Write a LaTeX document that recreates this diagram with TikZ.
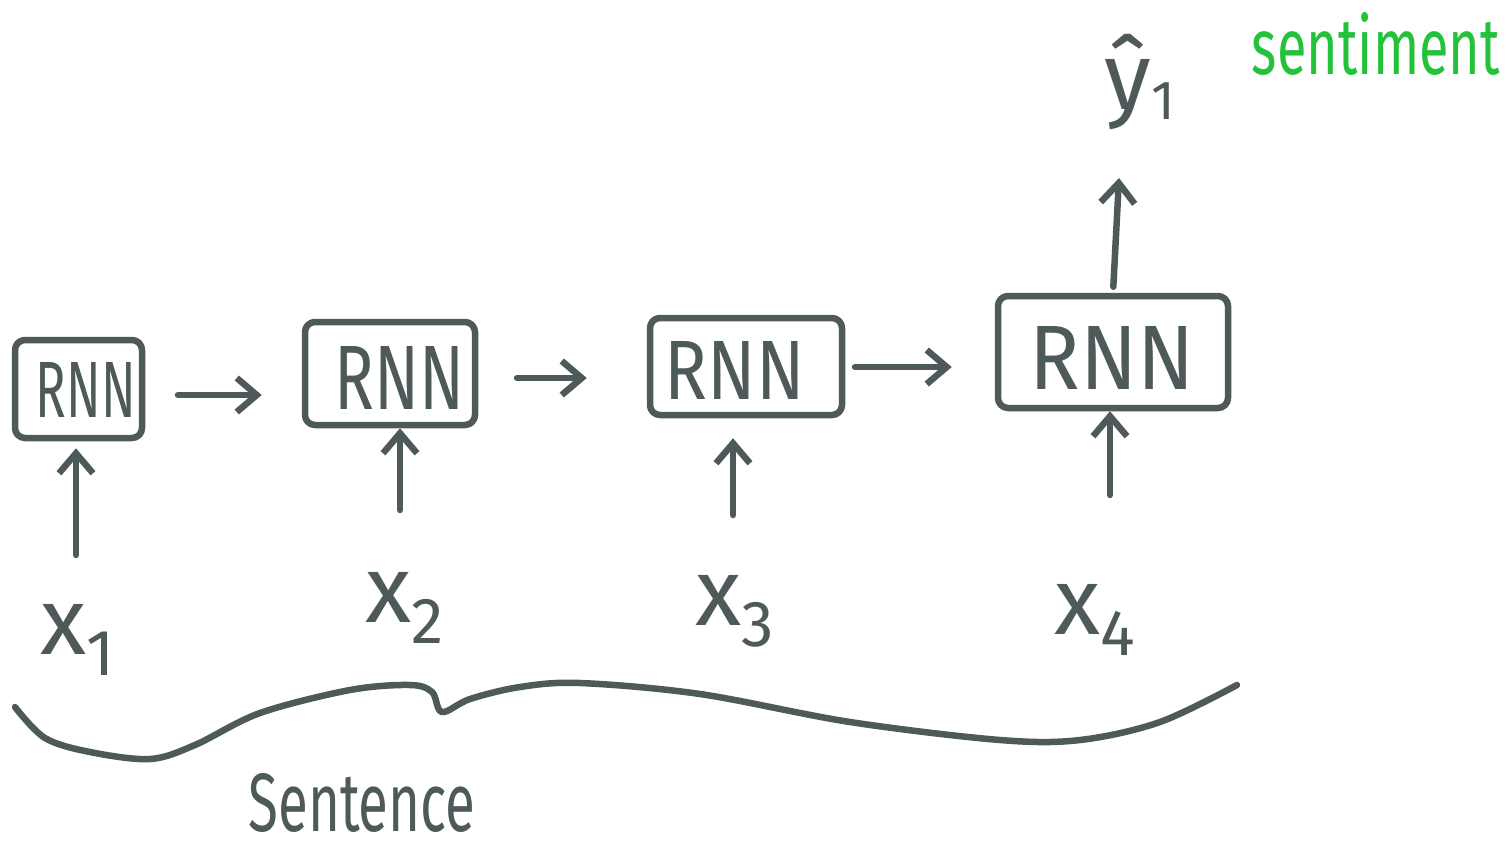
\documentclass[tikz,border=0pt]{standalone}
\usepackage{fontspec}
\setmainfont{Fira Sans}
\usetikzlibrary{arrows.meta}
\definecolor{ink}{HTML}{4E5959}
\definecolor{mark}{HTML}{22C23A}
\begin{document}
\begin{tikzpicture}[x=1pt,y=-1pt,
  inkline/.style={draw=ink, line width=6.5pt, line cap=round, line join=round},
  cell/.style={inkline, rounded corners=10pt, inner sep=0pt},
  arr/.style={inkline, -{Straight Barb[length=20pt,width=34pt]}},
  word/.style={text=ink, inner sep=0pt},
  sym/.style={word, font=\fontsize{95}{100}\selectfont},
  ]
\useasboundingbox (0,0) rectangle (1509,854);

% recurrent cells
\node[cell, minimum width=127pt, minimum height=98pt]  (box1) at (78.5,389) {};
\node[cell, minimum width=170pt, minimum height=103pt] (box2) at (390,373.5) {};
\node[cell, minimum width=192pt, minimum height=97pt]  (box3) at (746,366.5) {};
\node[cell, minimum width=230pt, minimum height=112pt] (box4) at (1113,352) {};
\node[word] (r1) at (86,390)   {\resizebox{100pt}{55pt}{RNN}};
\node[word] (r2) at (400,378)  {\resizebox{130pt}{63pt}{RNN}};
\node[word] (r3) at (735,370)  {\resizebox{140pt}{58pt}{RNN}};
\node[word] (r4) at (1112,358) {\resizebox{165pt}{63pt}{RNN}};

% inputs
\newcommand\sublbl[2]{#1\raisebox{-0.22em}{\fontsize{65}{70}\selectfont #2}}
\node[sym] (x1) at (78,640)   {\sublbl{x}{1}};
\node[sym] (x2) at (405,608)  {\sublbl{x}{2}};
\node[sym] (x3) at (735,611)  {\sublbl{x}{3}};
\node[sym] (x4) at (1095,620) {\sublbl{x}{4}};

% output
\node[sym] (yhat) at (1140,82) {ŷ\raisebox{-0.1em}{\fontsize{55}{60}\selectfont 1}};
\node[text=mark, inner sep=0pt] (tag) at (1376,44) {\resizebox{248pt}{62pt}{sentiment}};

% arrow tails
\coordinate (t1) at (76,555);
\coordinate (t2) at (400,510);
\coordinate (t3) at (733,515);
\coordinate (t4) at (1110,495);
\coordinate (h1) at (178,395);
\coordinate (h2) at (517,378);
\coordinate (h3) at (855,367);
\coordinate (yt) at (1119,178);

% input arrows
\draw[arr, shorten >=7pt]  (t1) -- (t1 |- box1.south);
\draw[arr]                 (t2) -- (t2 |- box2.south);
\draw[arr, shorten >=20pt] (t3) -- (t3 |- box3.south);
\draw[arr]                 (t4) -- (t4 |- box4.south);

% recurrence arrows
\draw[arr, shorten >=40pt] (h1) -- (h1 -| box2.west);
\draw[arr, shorten >=60pt] (h2) -- (h2 -| box3.west);
\draw[arr, shorten >=43pt] (h3) -- (h3 -| box4.west);

% output arrow
\draw[arr, shorten <=6pt] (box4.north) -- (yt);

% brace under the inputs
\coordinate (bl) at (15,707);
\coordinate (br) at (1237,685);
\draw[inkline] plot[smooth, tension=0.55] coordinates {
  (bl) (45,738) (90,752) (150,759) (195,745) (260,713) (350,690) (410,685)
  (432,692) (442,712) (470,699) (520,687) (580,683) (700,694) (850,722)
  (1000,740) (1080,740) (1160,722) (br)};

\node[word] (sent) at (362,803) {\resizebox{227pt}{58pt}{Sentence}};
\end{tikzpicture}
\end{document}
